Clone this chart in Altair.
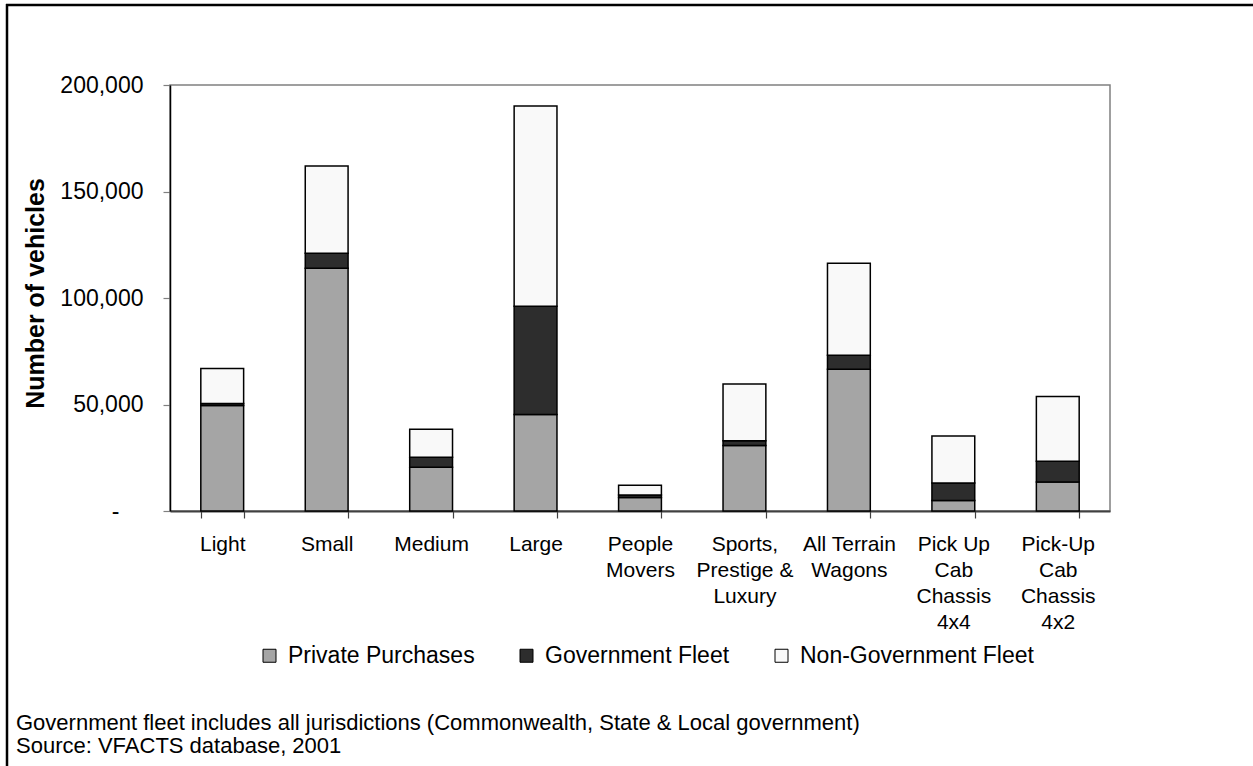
import altair as alt
import pandas as pd

# Vehicle segments (line breaks mark wrapped axis labels)
categories = [
    "Light",
    "Small",
    "Medium",
    "Large",
    "People\nMovers",
    "Sports,\nPrestige &\nLuxury",
    "All Terrain\nWagons",
    "Pick Up\nCab\nChassis\n4x4",
    "Pick-Up\nCab\nChassis\n4x2",
]

series = ["Private Purchases", "Government Fleet", "Non-Government Fleet"]
series_colors = ["#a5a5a5", "#2d2d2d", "#f9f9f9"]

# Number of vehicles per segment and buyer type
private = [49500, 114000, 20500, 45300, 6300, 30800, 66500, 4900, 13600]
government = [1000, 7000, 4700, 50800, 1200, 2200, 6600, 8200, 9700]
non_government = [16400, 41000, 13200, 94000, 4600, 26600, 43200, 22100, 30500]

y_ticks = [0, 50000, 100000, 150000, 200000]

footnote = [
    "Government fleet includes all jurisdictions (Commonwealth, State & Local government)",
    "Source: VFACTS database, 2001",
]

rows = []
for i, cat in enumerate(categories):
    for j, (name, vals) in enumerate(zip(series, [private, government, non_government])):
        rows.append({"category": cat, "series": name, "value": vals[i], "stack_order": j})
df = pd.DataFrame(rows)

FONT = "Liberation Sans"
W, H = 940, 426
LEFT, TOP = 170, 85

bars = alt.Chart(df).mark_bar(stroke="black", strokeWidth=1.5).encode(
    x=alt.X(
        "category:N",
        sort=categories,
        scale=alt.Scale(paddingInner=0.59, paddingOuter=0.295),
        axis=alt.Axis(
            title=None,
            labelExpr="split(datum.label, '\\n')",
            labelAngle=0,
            labelAlign="center",
            labelBaseline="top",
            labelFontSize=21,
            labelLineHeight=26,
            labelPadding=15,
            labelLimit=0,
            labelColor="black",
            domainColor="#404040",
            domainWidth=2,
            tickColor="#404040",
            tickWidth=1.2,
            tickSize=7,
            tickBand="extent",
            tickExtra=True,
            grid=False,
        ),
    ),
    y=alt.Y(
        "value:Q",
        stack="zero",
        scale=alt.Scale(domain=[0, 200000], nice=False),
        axis=alt.Axis(
            values=y_ticks,
            labelExpr="datum.value == 0 ? '-' : format(datum.value, ',')",
            labelFontSize=23,
            labelPadding={"condition": {"test": "datum.value == 0", "value": 44}, "value": 20},
            labelColor="black",
            domainColor="black",
            domainWidth=1.5,
            tickColor="#808080",
            tickWidth=1.2,
            tickSize=7,
            grid=False,
            title="Number of vehicles",
            titleFontSize=25,
            titleFontWeight="bold",
            titleColor="black",
            titleBaseline="alphabetic",
            titleAlign="center",
            titleX=-127,
            titleY=208,
        ),
    ),
    color=alt.Color(
        "series:N",
        sort=series,
        scale=alt.Scale(domain=series, range=series_colors),
        legend=alt.Legend(
            title=None,
            orient="none",
            direction="horizontal",
            legendX=88,
            legendY=559,
            padding=0,
            symbolType="square",
            symbolSize=169,
            symbolStrokeColor="black",
            symbolStrokeWidth=1,
            symbolOpacity=1,
            labelFontSize=23,
            labelOffset=7,
            labelColor="black",
            labelLimit=0,
            columnPadding=40,
        ),
    ),
    order=alt.Order("stack_order:Q"),
)

one = alt.Data(values=[{"k": 0}])

# Outer frame of the figure box (top and left edges)
frame_top = alt.Chart(one).mark_rule(color="black", strokeWidth=2.5).encode(
    x=alt.value(6 - LEFT), x2=alt.value(1253 - LEFT), y=alt.value(5 - TOP)
)
frame_left = alt.Chart(one).mark_rule(color="black", strokeWidth=2.5).encode(
    x=alt.value(7 - LEFT), y=alt.value(4 - TOP), y2=alt.value(766 - TOP)
)

notes = alt.Chart(one).mark_text(
    align="left", baseline="alphabetic", fontSize=22, lineHeight=23, font=FONT, color="black"
).encode(
    x=alt.value(16 - LEFT), y=alt.value(730 - TOP), text=alt.value(footnote)
)

chart = (
    alt.layer(bars, frame_top, frame_left, notes)
    .properties(
        width=W,
        height=H,
        autosize=alt.AutoSizeParams(type="none"),
        padding={"left": LEFT, "top": TOP, "right": 1253 - LEFT - W, "bottom": 766 - TOP - H},
        background="white",
    )
    .configure_view(stroke="#808080", strokeWidth=1.5)
    .configure_axis(labelFont=FONT, titleFont=FONT)
    .configure_legend(labelFont=FONT)
    .configure_text(font=FONT)
)

chart.save("out.html", embed_options={"renderer": "svg", "actions": False})
